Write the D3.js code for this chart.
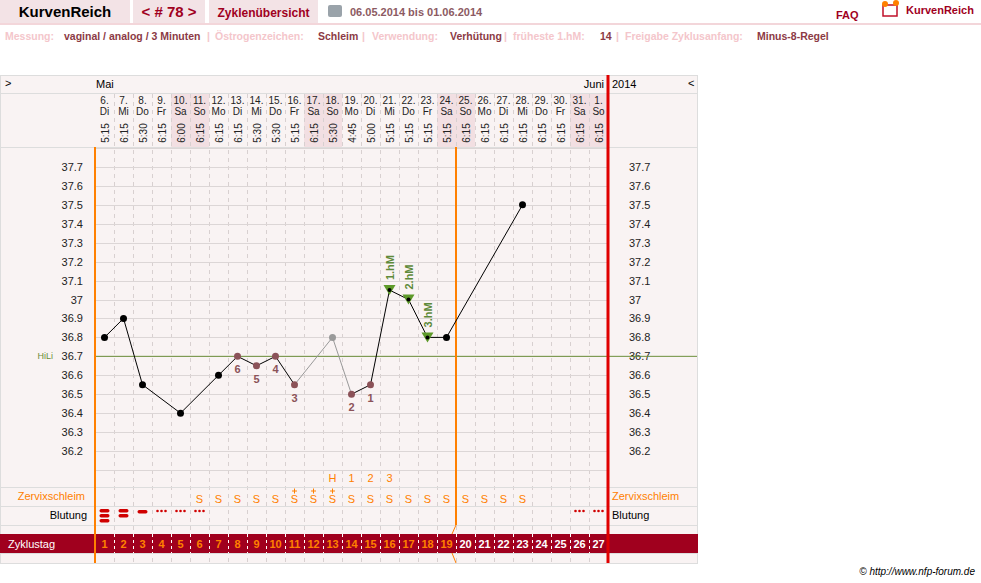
<!DOCTYPE html>
<html><head><meta charset="utf-8">
<script src="https://cdnjs.cloudflare.com/ajax/libs/d3/7.8.5/d3.min.js"></script>
<style>body{margin:0;background:#fff;font-family:"Liberation Sans",Arial,sans-serif}</style>
</head><body><div id="chart"></div>
<script>
// cycle data
const dates = ["6.","7.","8.","9.","10.","11.","12.","13.","14.","15.","16.","17.","18.","19.","20.","21.","22.","23.","24.","25.","26.","27.","28.","29.","30.","31.","1."];
const weekdays = ["Di","Mi","Do","Fr","Sa","So","Mo","Di","Mi","Do","Fr","Sa","So","Mo","Di","Mi","Do","Fr","Sa","So","Mo","Di","Mi","Do","Fr","Sa","So"];
const times = ["5:15","6:15","5:30","6:15","6:00","6:15","6:15","6:15","5:30","5:30","5:15","6:15","5:30","4:45","5:00","5:15","5:15","5:15","5:15","6:15","6:15","6:15","6:15","6:15","6:15","6:15","6:15"];
const temps = [36.8,36.9,36.55,null,36.4,null,36.6,36.7,36.65,36.7,36.55,null,36.8,36.5,36.55,37.05,37.0,36.8,36.8,null,null,null,37.5,null,null,null,null];
const pointType = ["n","n","n","","n","","n","m","m","m","m","","g","m","m","h","h","h","n","","","","n","","","",""];
const lowLabels = {8:"6",9:"5",10:"4",11:"3",14:"2",15:"1"};
const hmLabels = {16:"1.hM",17:"2.hM",18:"3.hM"};
const peakRow = {13:"H",14:"1",15:"2",16:"3"};
const mucus = ["","","","","","S","S","S","S","S","S+","S+","S+","S","S","S","S","S","S","S","S","S","S","","","",""];
const bleeding = [3,2,1,"d","d","d",0,0,0,0,0,0,0,0,0,0,0,0,0,0,0,0,0,0,0,"d","d"];
const tempTicks = [37.7,37.6,37.5,37.4,37.3,37.2,37.1,37.0,36.9,36.8,36.7,36.6,36.5,36.4,36.3,36.2];
const coverline = 36.7;

const W=981,H=583;
const svg=d3.select("#chart").append("svg").attr("width",W).attr("height",H);
const days=d3.range(1,28);
const x=d3.scaleBand().domain(days).range([95,608]);
const cx=d=>x(d)+x.bandwidth()/2;
const y=d3.scaleLinear().domain([36.2,37.7]).range([451,167]);
const dark="#8c3a45",pale="#f4c6cb",tabBg="#f3e3e6",orange="#ff8000";

// header tabs
const tabs=[[0,130,"KurvenReich","#000",15,"bold"],[133,205,"< # 78 >","#a0001e",15,"bold"],[209,318,"Zyklenübersicht","#a0001e",12,"bold"]];
tabs.forEach(t=>{svg.append("rect").attr("x",t[0]).attr("y",0).attr("width",t[1]-t[0]).attr("height",23).attr("fill",tabBg);
 svg.append("text").attr("x",(t[0]+t[1])/2).attr("y",17).attr("text-anchor","middle").attr("fill",t[3]).attr("font-size",t[4]).attr("font-weight",t[5]).text(t[2]);});
svg.append("rect").attr("x",0).attr("y",23).attr("width",W).attr("height",2).attr("fill","#f3d6da");
svg.append("rect").attr("x",328).attr("y",5).attr("width",14).attr("height",12).attr("fill","#9aa3aa").attr("rx",2);
svg.append("text").attr("x",350).attr("y",16).attr("font-size",11).attr("font-weight","bold").attr("fill","#8c5a62").text("06.05.2014 bis 01.06.2014");
svg.append("text").attr("x",836).attr("y",19).attr("font-size",11).attr("font-weight","bold").attr("fill","#a0001e").text("FAQ");
svg.append("rect").attr("x",883).attr("y",5).attr("width",14).attr("height",11).attr("fill","none").attr("stroke","#c0102a").attr("stroke-width",1.5);
svg.append("circle").attr("cx",885).attr("cy",4).attr("r",3).attr("fill",orange);
svg.append("circle").attr("cx",896).attr("cy",3).attr("r",3).attr("fill",orange);
svg.append("text").attr("x",906).attr("y",14).attr("font-size",11).attr("font-weight","bold").attr("fill","#a0001e").text("KurvenReich");

// info line
const info=[["Messung:",pale],["vaginal / analog / 3 Minuten",dark],["|",pale],["Östrogenzeichen:",pale],["Schleim",dark],["|",pale],["Verwendung:",pale],["Verhütung",dark],["|",pale],["früheste 1.hM:",pale],["14",dark],["|",pale],["Freigabe Zyklusanfang:",pale],["Minus-8-Regel",dark]];
const infoX=[5,64,207,215,318,362,372,450,504,513,600,616,625,757];
info.forEach((d,i)=>svg.append("text").attr("x",infoX[i]).attr("y",40).attr("font-size",10.5).attr("font-weight","bold").attr("fill",d[1]).text(d[0]));

// chart frame
svg.append("rect").attr("x",0.5).attr("y",75.5).attr("width",697).attr("height",488).attr("fill","#f9f3f3").attr("stroke","#ddd");
svg.append("line").attr("x1",0).attr("x2",698).attr("y1",93.5).attr("y2",93.5).attr("stroke","#ddd");
svg.append("line").attr("x1",0).attr("x2",698).attr("y1",147.5).attr("y2",147.5).attr("stroke","#ddd");
svg.append("text").attr("x",5).attr("y",87).attr("font-size",11).text(">");
svg.append("text").attr("x",688).attr("y",87).attr("font-size",11).text("<");
svg.append("text").attr("x",96).attr("y",88).attr("font-size",11).text("Mai");
svg.append("text").attr("x",604).attr("y",88).attr("font-size",11).attr("text-anchor","end").text("Juni");
svg.append("text").attr("x",612).attr("y",88).attr("font-size",11).text("2014");

// weekend shading in header
const wk=days.filter(d=>weekdays[d-1]==="Sa"||weekdays[d-1]==="So");
svg.selectAll(".wk").data(wk).join("rect").attr("x",d=>x(d)).attr("y",94).attr("width",x.bandwidth()).attr("height",53).attr("fill","#f2dfe2");
// header texts
const hd=svg.append("g").attr("font-size",10).attr("fill","#222").attr("text-anchor","middle");
hd.selectAll(".dt").data(days).join("text").attr("x",cx).attr("y",104).text(d=>dates[d-1]);
hd.selectAll(".wd").data(days).join("text").attr("x",cx).attr("y",115).text(d=>weekdays[d-1]);
hd.selectAll(".tm").data(days).join("text").attr("transform",d=>`translate(${cx(d)+4},133) rotate(-90)`).text(d=>times[d-1]);

// grid
svg.selectAll(".vg").data(days.slice(1)).join("line").attr("x1",d=>x(d)+.5).attr("x2",d=>x(d)+.5).attr("y1",94).attr("y2",563)
 .attr("stroke","#d8d0d0").attr("stroke-dasharray","4,4");
svg.selectAll(".hg").data(tempTicks.concat([37.8,36.1])).join("line").attr("x1",95).attr("x2",607).attr("y1",d=>Math.round(y(d))+.5).attr("y2",d=>Math.round(y(d))+.5).attr("stroke","#dcd6d6");
// row lines
[487,506,525,534,553].forEach(v=>svg.append("line").attr("x1",0).attr("x2",698).attr("y1",v+.5).attr("y2",v+.5).attr("stroke","#ddd"));

// axes left/right
const axL=svg.append("g").attr("transform","translate(86,0)").call(d3.axisLeft(y).tickValues(tempTicks).tickSize(0).tickFormat(d=>d3.format("")(+d.toFixed(1))));
const axR=svg.append("g").attr("transform","translate(626,0)").call(d3.axisRight(y).tickValues(tempTicks).tickSize(0).tickFormat(d=>d3.format("")(+d.toFixed(1))));
[axL,axR].forEach(a=>{a.select(".domain").remove();a.selectAll("text").attr("font-size",11).attr("fill","#222").attr("font-family","Liberation Sans");});

// coverline
svg.append("line").attr("x1",95).attr("x2",697).attr("y1",y(coverline)).attr("y2",y(coverline)).attr("stroke","#6b8e3a");
svg.append("text").attr("x",53).attr("y",y(coverline)+3).attr("font-size",9).attr("fill","#6b8e3a").attr("text-anchor","end").text("HiLi");

// orange / red verticals
svg.append("line").attr("x1",95).attr("x2",95).attr("y1",147).attr("y2",563).attr("stroke",orange).attr("stroke-width",2);
const ox=x(20);
svg.append("line").attr("x1",ox).attr("x2",ox).attr("y1",147).attr("y2",525).attr("stroke",orange).attr("stroke-width",2);
svg.append("path").attr("d",`M${ox},525L${ox-4},534M${ox-4},553L${ox},563`).attr("stroke",orange).attr("fill","none");
svg.append("line").attr("x1",608).attr("x2",608).attr("y1",75).attr("y2",563).attr("stroke","#e00000").attr("stroke-width",3);

// temperature curve
const pts=days.filter(d=>temps[d-1]!=null).map(d=>({d,t:temps[d-1],k:pointType[d-1]}));
for(let i=1;i<pts.length;i++){const a=pts[i-1],b=pts[i];
 const grey=(a.d===11&&b.d===13)||(a.d===13&&b.d===14);
 svg.append("line").attr("x1",cx(a.d)).attr("y1",y(a.t)).attr("x2",cx(b.d)).attr("y2",y(b.t)).attr("stroke",grey?"#999":"#000");}
pts.filter(p=>p.k==="h").forEach(p=>svg.append("path").attr("d",`M${cx(p.d)-6},${y(p.t)-5}L${cx(p.d)+6},${y(p.t)-5}L${cx(p.d)},${y(p.t)+5}Z`).attr("fill","#5e9a2a"));
svg.selectAll(".pt").data(pts).join("circle").attr("cx",p=>cx(p.d)).attr("cy",p=>y(p.t)).attr("r",p=>p.k==="h"?2:3.5)
 .attr("fill",p=>p.k==="m"?"#8b5258":p.k==="g"?"#9a9a9a":"#000");
svg.selectAll(".ll").data(Object.keys(lowLabels)).join("text").attr("x",d=>cx(+d)).attr("y",d=>y(temps[d-1])+17).attr("text-anchor","middle")
 .attr("font-size",11).attr("font-weight","bold").attr("fill","#8b5258").text(d=>lowLabels[d]);
svg.selectAll(".hm").data(Object.keys(hmLabels)).join("text").attr("transform",d=>`translate(${cx(+d)+4},${y(temps[d-1])-10}) rotate(-90)`)
 .attr("font-size",11).attr("font-weight","bold").attr("fill","#5e8a3a").text(d=>hmLabels[d]);

// rows
svg.selectAll(".pk").data(Object.keys(peakRow)).join("text").attr("x",d=>cx(+d)).attr("y",482).attr("text-anchor","middle").attr("font-size",11).attr("fill",orange).text(d=>peakRow[d]);
svg.append("text").attr("x",85).attr("y",500).attr("text-anchor","end").attr("font-size",11).attr("fill",orange).text("Zervixschleim");
svg.append("text").attr("x",612).attr("y",500).attr("font-size",11).attr("fill",orange).text("Zervixschleim");
const mu=days.filter(d=>mucus[d-1]);
svg.selectAll(".mu").data(mu).join("text").attr("x",cx).attr("y",503).attr("text-anchor","middle").attr("font-size",11).attr("fill",orange).text("S");
// small plus marks above S+
svg.selectAll(".mp").data(mu.filter(d=>mucus[d-1]==="S+")).join("path")
 .attr("d",d=>`M${cx(d)-2.5},${491}H${cx(d)+2.5}M${cx(d)},${488.5}V${493.5}`).attr("stroke",orange).attr("stroke-width",1);
svg.append("text").attr("x",87).attr("y",519).attr("text-anchor","end").attr("font-size",11).text("Blutung");
svg.append("text").attr("x",612).attr("y",519).attr("font-size",11).text("Blutung");
days.forEach(d=>{const b=bleeding[d-1];
 if(b==="d"){[-4,0,4].forEach(o=>svg.append("circle").attr("cx",cx(d)+o).attr("cy",511).attr("r",1.3).attr("fill","#d00000"));}
 else if(b>0){for(let k=0;k<b;k++)svg.append("rect").attr("x",cx(d)-5).attr("y",510+k*5-(b>1?1:0)).attr("width",10).attr("height",3.5).attr("rx",1.7).attr("fill","#d00000");}
});
// Zyklustag
svg.append("rect").attr("x",0).attr("y",534).attr("width",698).attr("height",19).attr("fill","#a0001e");
svg.append("text").attr("x",8).attr("y",548).attr("font-size",11).attr("fill","#fff").text("Zyklustag");
svg.selectAll(".zl").data(days.slice(1)).join("line").attr("x1",d=>x(d)+.5).attr("x2",d=>x(d)+.5).attr("y1",534).attr("y2",553).attr("stroke","#fff").attr("stroke-dasharray","3,3");
svg.selectAll(".zt").data(days).join("text").attr("x",cx).attr("y",548).attr("text-anchor","middle").attr("font-size",11).attr("font-weight","bold")
 .attr("fill",d=>d<=19?orange:"#fff").text(d=>d);
svg.append("line").attr("x1",95).attr("x2",95).attr("y1",534).attr("y2",553).attr("stroke",orange).attr("stroke-width",2);
svg.append("line").attr("x1",608).attr("x2",608).attr("y1",534).attr("y2",553).attr("stroke","#e00000").attr("stroke-width",3);

svg.append("text").attr("x",975).attr("y",575).attr("text-anchor","end").attr("font-size",10).attr("font-style","italic").text("© http://www.nfp-forum.de");
</script></body></html>
